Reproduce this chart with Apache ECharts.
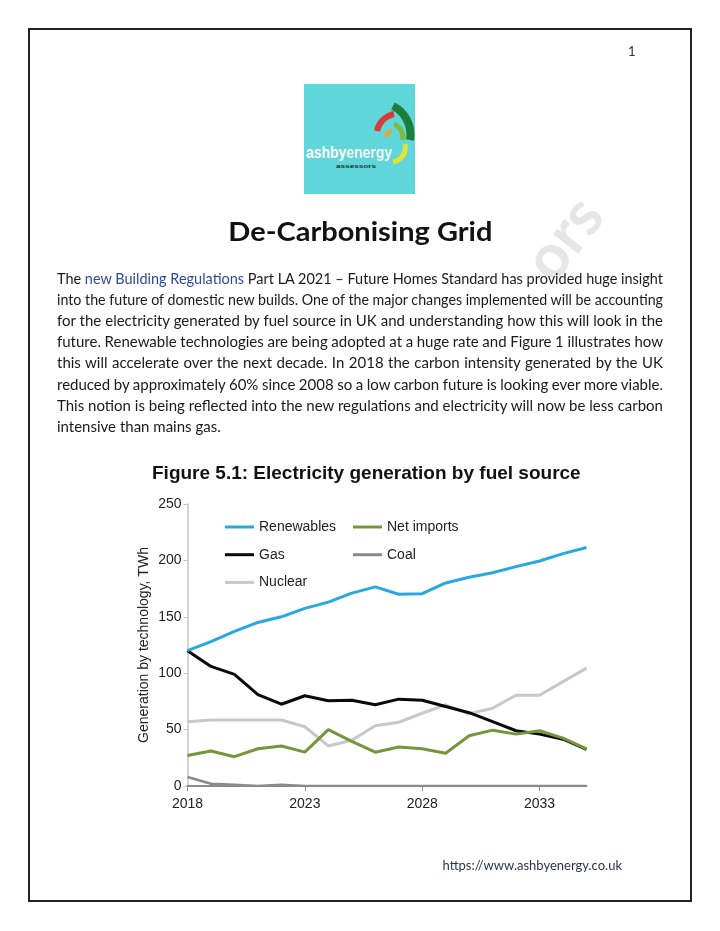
<!DOCTYPE html>
<html>
<head>
<meta charset="utf-8">
<script src="https://cdn.jsdelivr.net/npm/echarts@6/dist/echarts.min.js"></script>
<style>
  html, body { margin:0; padding:0; background:#fff; }
  body { width:720px; height:931px; position:relative; overflow:hidden; font-family: Lato, "Open Sans", sans-serif; }
  #page { position:absolute; left:28px; top:28px; width:664px; height:874px; box-sizing:border-box; border:2px solid #222; }
  #chart { position:absolute; left:0; top:0; width:720px; height:931px; }
  .abs { position:absolute; white-space:nowrap; }
  .pline { position:absolute; left:57px; white-space:nowrap; font-size:15px; color:#1a1a1a; line-height:20px; transform-origin:0 50%; }
  .link { color:#2f4a9a; }
</style>
</head>
<body>
<div id="page"></div>
<svg class="abs" style="left:0;top:0" width="720" height="931">
  <text x="566" y="258" font-family="Lato, sans-serif" font-size="62" font-weight="bold" fill="#e6e6e6" text-anchor="middle" transform="rotate(-52 566 240)">ors</text>
  <rect x="304" y="84" width="111" height="110" fill="#5fd6d9"/>
  <path d="M393 106 A32 32 0 0 1 410 140" stroke="#1e7d3a" stroke-width="8" fill="none"/>
  <path d="M377 131 A22 22 0 0 1 394 114" stroke="#d63a3c" stroke-width="6" fill="none"/>
  <path d="M394 124 A16 16 0 0 1 403 140" stroke="#7dbb42" stroke-width="5" fill="none"/>
  <path d="M386 137 A7 7 0 0 1 392 131" stroke="#f0a030" stroke-width="4" fill="none"/>
  <path d="M405 144 A15 15 0 0 1 393 162" stroke="#e4e232" stroke-width="5" fill="none"/>
  <text x="306" y="158" font-family="Liberation Sans, Arial, sans-serif" font-size="16" font-weight="bold" fill="#ffffff" textLength="86" lengthAdjust="spacingAndGlyphs">ashby<tspan fill="#eef6f6">energy</tspan></text>
  <text x="336" y="168" font-family="Liberation Sans, Arial, sans-serif" font-size="6" font-weight="bold" fill="#1c2a36" textLength="40" lengthAdjust="spacingAndGlyphs">assessors</text>
</svg>
<div id="chart"></div>
<div class="abs" style="left:628px;top:43px;font-size:13px;color:#333;">1</div>
<div class="abs" id="title" style="left:0;width:720px;top:215px;text-align:center;font-size:26px;font-weight:bold;color:#111;">De-Carbonising Grid</div>
<div id="para"></div>
<div class="abs" style="left:0;width:622px;top:857px;text-align:right;font-size:13px;color:#2a3548;">https://www.ashbyenergy.co.uk</div>

<script>
// ---- data ----
const years = ['2018','2019','2020','2021','2022','2023','2024','2025','2026','2027','2028','2029','2030','2031','2032','2033','2034','2035'];
const renewables = [120,128,137,145,150,157.5,163,171,176.5,170,170.5,180,185,189,194.5,199.5,206,211.5];
const netImports = [27,31,26,33,35.5,30,50,39.5,30,34.5,33,29,44.5,49.5,46,49,42.5,33];
const gas = [120,106,99,81,72.5,80,75.5,76,72,77,76,70.5,65,57,49,46,41.5,32.5];
const coal = [8,2,1,0,1,0,0,0,0,0,0,0,0,0,0,0,0,0];
const nuclear = [57,58.5,58.5,58.5,58.5,52.5,35.5,40.5,53.5,56.5,64.5,72,64,69,80.5,80.5,92.5,104.5];
const yTicks = [0,50,100,150,200,250];

// ---- paragraph ----
const paraLines = [
  ['The ', ['new Building Regulations'], ' Part LA 2021 \u2013 Future Homes Standard has provided huge insight'],
  ['into the future of domestic new builds. One of the major changes implemented will be accounting'],
  ['for the electricity generated by fuel source in UK and understanding how this will look in the'],
  ['future. Renewable technologies are being adopted at a huge rate and Figure 1 illustrates how'],
  ['this will accelerate over the next decade. In 2018 the carbon intensity generated by the UK'],
  ['reduced by approximately 60% since 2008 so a low carbon future is looking ever more viable.'],
  ['This notion is being reflected into the new regulations and electricity will now be less carbon'],
  ['intensive than mains gas.']
];
const para = document.getElementById('para');
const W = 606;
paraLines.forEach((parts, i) => {
  const d = document.createElement('div');
  d.className = 'pline';
  d.style.top = (268 + i * 21.1) + 'px';
  parts.forEach(p => {
    if (Array.isArray(p)) { const s = document.createElement('span'); s.className = 'link'; s.textContent = p[0]; d.appendChild(s); }
    else d.appendChild(document.createTextNode(p));
  });
  para.appendChild(d);
  const last = i === paraLines.length - 1;
  const text = d.textContent;
  const spaces = (text.match(/ /g) || []).length;
  const w = d.getBoundingClientRect().width;
  if (!last) {
    let ws = (W - w) / spaces;
    if (ws < -1.2) {
      d.style.transform = 'scaleX(' + (W / w) + ')';
    } else {
      d.style.wordSpacing = ws + 'px';
    }
  }
});
// title fit
(function(){
  const t = document.getElementById('title');
  const span = document.createElement('span'); span.textContent = t.textContent; t.textContent=''; t.appendChild(span);
  span.style.display='inline-block';
  const w = span.getBoundingClientRect().width;
  span.style.transform = 'scaleX(' + (264 / w) + ')';
})();

// ---- chart ----
const chart = echarts.init(document.getElementById('chart'), null, {renderer:'canvas'});
const font = '"Liberation Sans", Arial, sans-serif';
const mk = (name, data, color, width, z) => ({
  name, type:'line', data, symbol:'none', smooth:false, z,
  lineStyle:{ color, width }, itemStyle:{ color }
});
chart.setOption({
  animation:false,
  backgroundColor:'transparent',
  textStyle:{ fontFamily: font },
  graphic:[{
    type:'text', left:152, top:464,
    style:{ text:'Figure 5.1: Electricity generation by fuel source', fill:'#111', font:'bold 19px ' + font }
  }],
  grid:{ left:187.5, top:504, width:399, height:282, containLabel:false },
  legend:[{
    data:['Renewables','Gas','Nuclear'], orient:'vertical', left:220, top:514,
    icon:'rect', itemWidth:29, itemHeight:3, itemGap:11.7,
    textStyle:{ fontSize:14, color:'#222', fontFamily:font, lineHeight:16 }
  },{
    data:['Net imports','Coal'], orient:'vertical', left:348, top:514,
    icon:'rect', itemWidth:29, itemHeight:3, itemGap:11.7,
    textStyle:{ fontSize:14, color:'#222', fontFamily:font, lineHeight:16 }
  }],
  xAxis:{
    type:'category', data:years, boundaryGap:false,
    axisLine:{ lineStyle:{ color:'#8a8a8a', width:2 } },
    axisTick:{ show:true, interval:4, length:5, lineStyle:{ color:'#8a8a8a', width:1 } },
    axisLabel:{ interval:4, color:'#222', fontSize:14, margin:11, fontFamily:font },
    splitLine:{ show:false }
  },
  yAxis:{
    type:'value', min:0, max:250, interval:50,
    name:'Generation by technology, TWh', nameLocation:'middle', nameGap:36, nameMoveOverlap:false,
    nameTextStyle:{ fontSize:14, color:'#222', fontFamily:font },
    axisLine:{ show:true, lineStyle:{ color:'#c4c4c4', width:1.5 } },
    axisTick:{ show:true, length:4, lineStyle:{ color:'#c4c4c4' } },
    axisLabel:{ color:'#222', fontSize:14, margin:6, fontFamily:font,
      formatter: v => yTicks.includes(v) ? String(v) : '' },
    splitLine:{ show:false }
  },
  series:[
    mk('Coal', coal, '#8a8a8a', 2.5, 2),
    mk('Nuclear', nuclear, '#c8c8c8', 3, 3),
    mk('Gas', gas, '#0a0a0a', 3, 4),
    mk('Net imports', netImports, '#76963c', 3, 5),
    mk('Renewables', renewables, '#29a8e0', 3, 6)
  ]
});
</script>
</body>
</html>
